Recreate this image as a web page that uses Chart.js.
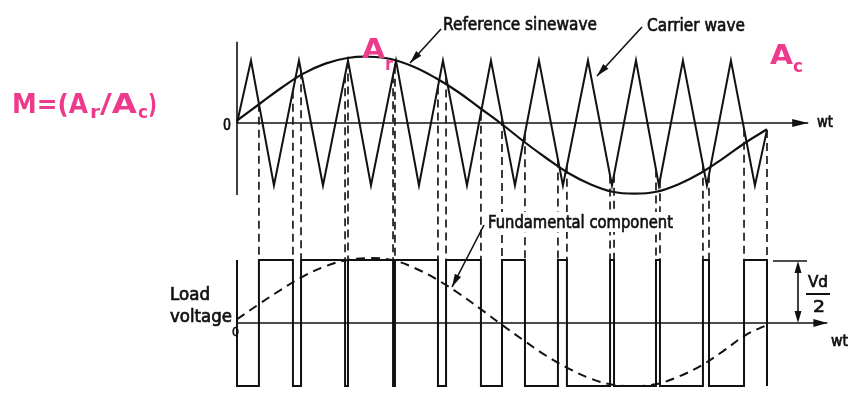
<!DOCTYPE html>
<html>
<head>
<meta charset="utf-8">
<script src="https://cdn.jsdelivr.net/npm/chart.js@4.4.1/dist/chart.umd.min.js"></script>
<style>
html,body{margin:0;padding:0;background:#fff;}
canvas{display:block;}
</style>
</head>
<body>
<canvas id="c" width="853" height="396"></canvas>
<script>
// ---- data (wt in degrees) ----
const carrierX = [0, 9.5, 25.1, 42.1, 58.4, 75.4, 91.0, 108.0, 123.6, 139.9, 156.2, 172.5, 188.8, 205.1, 221.4, 238.4, 254.7, 271.0, 286.6, 302.9, 319.2, 335.5, 351.8, 360];
const carrierY = [0, 1, -1, 1, -1, 1, -1, 1, -1, 1, -1, 1, -1, 1, -1, 1, -1, 1, -1, 1, -1, 1, -1, -0.11];
const sineX = [0, 15, 30, 45, 60, 75, 90, 105, 120, 135, 150, 165, 180, 195, 210, 225, 240, 255, 270, 285, 300, 315, 330, 345, 360];
const sineY = [0.04, 0.30, 0.56, 0.79, 0.95, 1.04, 1.06, 1.02, 0.90, 0.72, 0.50, 0.24, -0.02, -0.30, -0.56, -0.80, -0.98, -1.10, -1.13, -1.10, -0.98, -0.80, -0.57, -0.32, -0.10];
const fundY = [0.06, 0.30, 0.53, 0.74, 0.90, 1.00, 1.03, 1.00, 0.88, 0.70, 0.48, 0.23, -0.03, -0.28, -0.52, -0.72, -0.88, -0.98, -1.00, -0.97, -0.85, -0.68, -0.45, -0.20, -0.03];
const switchOn  = [14.9, 43.5, 75.4, 107.3, 142.0, 180.0, 218.0, 253.4, 284.6, 316.5, 344.4];
const switchOff = [38.0, 73.4, 106.0, 136.5, 165.7, 195.6, 224.1, 256.1, 287.3, 320.6, 360];
const axisTopEnd = 388, axisBotEnd = 401;

// ---- build datasets ----
const pts = (xs, ys) => xs.map((x, i) => ({x, y: ys[i]}));
const loadPts = [{x:0,y:1},{x:0,y:-1}];
switchOn.forEach((on, i) => {
  loadPts.push({x:on,y:-1},{x:on,y:1},{x:switchOff[i],y:1},{x:switchOff[i],y:-1});
});
function carrierAt(x){
  for (let i = 1; i < carrierX.length; i++) {
    if (x <= carrierX[i]) {
      const t = (x - carrierX[i-1]) / (carrierX[i] - carrierX[i-1]);
      return carrierY[i-1] + t * (carrierY[i] - carrierY[i-1]);
    }
  }
  return carrierY[carrierY.length-1];
}
const base = {pointRadius:0, borderColor:'#111', fill:false, tension:0};

// ---- helpers for annotations ----
const PINK = '#ee3a8c';
function fitText(ctx, txt, x, y, w, size, weight, color){
  ctx.save();
  ctx.font = (weight||'normal') + ' ' + size + 'px "DejaVu Sans"';
  ctx.fillStyle = color || '#111';
  ctx.strokeStyle = color || '#111';
  ctx.textBaseline = 'alphabetic';
  const m = ctx.measureText(txt).width;
  ctx.translate(x, y);
  ctx.scale(w / m, 1);
  ctx.fillText(txt, 0, 0);
  if (!weight) { ctx.lineWidth = 0.7; ctx.strokeText(txt, 0, 0); }
  ctx.restore();
}
function arrowHead(ctx, x0, y0, x1, y1, len, hw){
  const a = Math.atan2(y1 - y0, x1 - x0);
  ctx.beginPath();
  ctx.moveTo(x1, y1);
  ctx.lineTo(x1 - len*Math.cos(a) + hw*Math.sin(a), y1 - len*Math.sin(a) - hw*Math.cos(a));
  ctx.lineTo(x1 - len*Math.cos(a) - hw*Math.sin(a), y1 - len*Math.sin(a) + hw*Math.cos(a));
  ctx.closePath();
  ctx.fill();
}
function arrow(ctx, x0, y0, x1, y1, len, hw){
  ctx.beginPath(); ctx.moveTo(x0, y0); ctx.lineTo(x1, y1); ctx.stroke();
  arrowHead(ctx, x0, y0, x1, y1, len, hw);
}

const overlay = {
  id:'overlay',
  afterDatasetsDraw(chart){
    const ctx = chart.ctx, sx = chart.scales.x, yt = chart.scales.yTop, yb = chart.scales.yBot;
    ctx.save();
    // dashed projection lines
    ctx.strokeStyle = '#1a1a1a'; ctx.lineWidth = 1.7; ctx.setLineDash([8,5]);
    switchOn.concat(switchOff).forEach(x => {
      const px = sx.getPixelForValue(x);
      ctx.beginPath();
      ctx.moveTo(px, yt.getPixelForValue(carrierAt(x)));
      ctx.lineTo(px, yb.getPixelForValue(1));
      ctx.stroke();
    });
    ctx.setLineDash([]);
    // white backing behind the label that interrupts the projection lines
    ctx.fillStyle = '#fff';
    ctx.fillRect(486, 212, 190, 20);
    ctx.fillStyle = '#111'; ctx.strokeStyle = '#111'; ctx.lineWidth = 1.6;
    // axis arrows
    const t0 = yt.getPixelForValue(0), b0 = yb.getPixelForValue(0);
    arrowHead(ctx, 0, t0, sx.getPixelForValue(axisTopEnd), t0, 16, 4);
    arrowHead(ctx, 0, b0, sx.getPixelForValue(axisBotEnd), b0, 14, 4);
    // Vd/2 dimension
    const bt = yb.getPixelForValue(1);
    ctx.beginPath(); ctx.moveTo(773, bt+1); ctx.lineTo(807, bt+1); ctx.stroke();
    ctx.beginPath(); ctx.moveTo(798, bt+10); ctx.lineTo(798, b0-10); ctx.stroke();
    arrowHead(ctx, 798, b0, 798, bt+1, 12, 3.5);
    arrowHead(ctx, 798, bt, 798, b0, 12, 3.5);
    ctx.lineWidth = 2;
    ctx.beginPath(); ctx.moveTo(806, 294); ctx.lineTo(830, 294); ctx.stroke();
    ctx.lineWidth = 1.6;
    // pointer arrows
    arrow(ctx, 441, 29, 410, 63, 13, 3.5);
    arrow(ctx, 642, 27, 597, 76, 13, 3.5);
    arrow(ctx, 484, 225, 452, 287, 13, 3.5);
    // labels
    fitText(ctx, 'Reference sinewave', 443, 30, 154, 18);
    fitText(ctx, 'Carrier wave', 647, 31, 98, 18);
    fitText(ctx, 'Fundamental component', 488, 228, 185, 17);
    fitText(ctx, 'Load', 170, 300, 40, 17);
    fitText(ctx, 'voltage', 170, 322, 62, 17);
    fitText(ctx, '0', 232, 336, 7, 13);
    fitText(ctx, '0', 223, 130, 8, 15);
    fitText(ctx, 'wt', 817, 127, 16, 15);
    fitText(ctx, 'wt', 831, 346, 17, 15);
    fitText(ctx, 'Vd', 808, 287, 20, 15);
    fitText(ctx, '2', 813, 312, 12, 16);
    // pink formula
    fitText(ctx, 'M=(A', 12, 113, 76, 27, 'bold', PINK);
    fitText(ctx, 'r', 90, 118, 10, 18, 'bold', PINK);
    fitText(ctx, '/A', 100, 113, 37, 27, 'bold', PINK);
    fitText(ctx, 'c', 138, 118, 10, 18, 'bold', PINK);
    fitText(ctx, ')', 148, 113, 9, 27, 'bold', PINK);
    fitText(ctx, 'A', 362, 58, 23, 27, 'bold', PINK);
    fitText(ctx, 'r', 385, 70, 8, 18, 'bold', PINK);
    fitText(ctx, 'A', 770, 64, 23, 27, 'bold', PINK);
    fitText(ctx, 'c', 793, 72, 10, 18, 'bold', PINK);
    ctx.restore();
  }
};

new Chart(document.getElementById('c'), {
  type:'line',
  data:{datasets:[
    {...base, label:'Carrier wave', data:pts(carrierX, carrierY), yAxisID:'yTop', borderWidth:2},
    {...base, label:'Reference sinewave', data:pts(sineX, sineY), yAxisID:'yTop', borderWidth:2.2, tension:0.4},
    {...base, label:'top axis', data:[{x:0,y:0},{x:axisTopEnd,y:0}], yAxisID:'yTop', borderWidth:1.6},
    {...base, label:'top vertical', data:[{x:0,y:1.30},{x:0,y:-1.15}], yAxisID:'yTop', borderWidth:1.6},
    {...base, label:'Load voltage', data:loadPts, yAxisID:'yBot', borderWidth:2},
    {...base, label:'Fundamental component', data:pts(sineX, fundY), yAxisID:'yBot', borderWidth:2, tension:0.4, borderDash:[9,6]},
    {...base, label:'bottom axis', data:[{x:0,y:0},{x:axisBotEnd,y:0}], yAxisID:'yBot', borderWidth:1.6}
  ]},
  options:{
    responsive:false, animation:false, events:[],
    layout:{padding:0},
    plugins:{legend:{display:false}, tooltip:{enabled:false}},
    scales:{
      x:{type:'linear', display:false, min:-160.98, max:418.42},
      yTop:{type:'linear', display:false, min:-4.368, max:1.968},
      yBot:{type:'linear', display:false, min:-1.159, max:5.127}
    }
  },
  plugins:[overlay]
});
</script>
</body>
</html>
